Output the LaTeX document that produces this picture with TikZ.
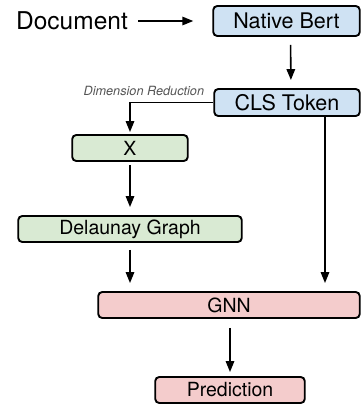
\documentclass[tikz,border=0pt]{standalone}
\usepackage{fontspec}
\setmainfont{TeX Gyre Heros}
\usetikzlibrary{arrows.meta}

\definecolor{bertblue}{RGB}{207,226,243}
\definecolor{graphgreen}{RGB}{217,234,211}
\definecolor{gnnpink}{RGB}{244,204,204}
\definecolor{notegray}{RGB}{85,85,85}

\tikzset{
    box/.style={draw, rounded corners=4pt, line width=1.9pt, inner sep=0pt, minimum height=26pt},
    bigtext/.style={font=\fontsize{21.5}{24}\selectfont},
    midtext/.style={font=\fontsize{19.5}{22}\selectfont},
    arr/.style={-{Triangle[length=11pt,width=8.5pt]}, line width=1.6pt},
}

\begin{document}
\begin{tikzpicture}[x=1pt, y=-1pt]
    \useasboundingbox (0,0) rectangle (362,405);
    \node[inner sep=0pt, font=\fontsize{24.5}{28}\selectfont] (doc) at (72,21) {Document};
    \node[box, bigtext, fill=bertblue, minimum width=146.5pt, minimum height=30pt] (bert) at (286.5,21) {Native Bert};
    \node[box, bigtext, fill=bertblue, minimum width=145.5pt, minimum height=27pt] (cls) at (287,102.5) {CLS Token};
    \node[box, midtext, fill=graphgreen, minimum width=115.5pt] (x) at (130,148) {X};
    \node[box, midtext, fill=graphgreen, minimum width=223.5pt] (delaunay) at (130,229) {Delaunay Graph};
    \node[box, midtext, fill=gnnpink, minimum width=261.5pt] (gnn) at (229,305) {GNN};
    \node[box, midtext, fill=gnnpink, minimum width=149.5pt] (pred) at (230,390) {Prediction};
    \node[inner sep=0pt, anchor=east, text=notegray, font=\fontsize{12.7}{14}\selectfont\itshape] (dimred) at ([xshift=-9pt,yshift=12pt]cls.west) {Dimension Reduction};

    \draw[arr, shorten <=10pt, shorten >=19pt] (doc) -- (bert);
    \draw[arr, shorten <=8pt, shorten >=8pt] ([xshift=4pt]bert.south) -- ([xshift=4pt]cls.north);
    \draw[arr, shorten >=2pt] (cls.west) -| (x.north);
    \draw[arr, shorten <=3pt, shorten >=8pt] (x) -- (delaunay);
    \draw[arr, shorten <=7pt, shorten >=8pt] (delaunay.south) -- (delaunay.south |- gnn.north);
    \draw[arr, shorten >=8pt] ([xshift=38pt]cls.south) -- ([xshift=38pt]cls.south |- gnn.north);
    \draw[arr, shorten <=9pt, shorten >=4pt] (gnn.south -| pred.north) -- (pred.north);
\end{tikzpicture}
\end{document}
